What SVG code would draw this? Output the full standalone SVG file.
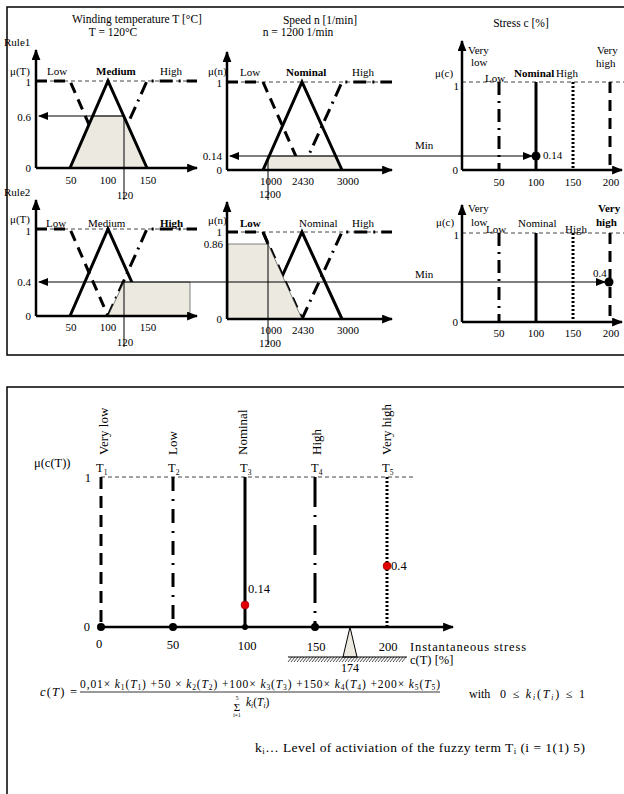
<svg xmlns="http://www.w3.org/2000/svg" width="624" height="794" viewBox="0 0 624 794">
<style>
text{font-family:"Liberation Serif","Times New Roman",serif;font-size:11px;fill:#000}
.b{font-weight:bold}
.it{font-style:italic}
.mid{text-anchor:middle}
.end{text-anchor:end}
.lg{font-size:12.5px}
.ax{stroke:#000;stroke-width:2.5;fill:none}
.sol{stroke:#000;stroke-width:3;fill:none}
.lo{stroke:#000;stroke-width:3;fill:none;stroke-dasharray:11 7}
.hi{stroke:#000;stroke-width:3;fill:none;stroke-dasharray:13 6 2 6}
.dt{stroke:#000;stroke-width:3;fill:none;stroke-dasharray:2 2}
.ref{stroke:#444;stroke-width:1;fill:none;stroke-dasharray:4 3}
.thin{stroke:#000;stroke-width:1;fill:none}
.shade{fill:#ECE9E0;stroke:#333;stroke-width:0.6}
.frame{fill:none;stroke:#000;stroke-width:1.5}
.sub{font-size:7.5px}
</style>
<defs>
<marker id="ah" viewBox="0 0 10 8" markerWidth="11" markerHeight="9" refX="9" refY="4" orient="auto" markerUnits="userSpaceOnUse"><path d="M0,0 L10,4 L0,8 z" fill="#000"/></marker>
<marker id="as" viewBox="0 0 10 8" markerWidth="10" markerHeight="8" refX="9" refY="4" orient="auto" markerUnits="userSpaceOnUse"><path d="M0,0 L10,4 L0,8 z" fill="#000"/></marker>
</defs>
<rect class="frame" x="7" y="7" width="640" height="348"/>
<rect class="frame" x="7" y="387" width="640" height="420"/>

<!-- headers -->
<text x="137" y="23" class="mid" style="font-size:11.5px">Winding temperature T [°C]</text>
<text x="113" y="36" class="mid" style="font-size:11.5px">T = 120°C</text>
<text x="320" y="24" class="mid" style="font-size:11.5px">Speed n [1/min]</text>
<text x="298" y="36" class="mid" style="font-size:11.5px">n = 1200 1/min</text>
<text x="521" y="27" class="mid" style="font-size:11.5px">Stress c [%]</text>
<text x="4" y="46">Rule1</text>
<text x="4" y="196">Rule2</text>

<!-- Rule1 temperature -->
<g id="r1-temp">
<line class="ref" x1="36" y1="81" x2="197" y2="81"/>
<polyline class="lo" points="36,81 70,81 108,168"/>
<polyline class="hi" points="108,168 147,81 197,81"/>
<polygon class="shade" points="70,168 93,116 124,116 147,168"/>
<polyline class="sol" points="70,168 108,81 147,168"/>
<line class="thin" x1="124" y1="116" x2="124" y2="200"/>
<line class="ax" x1="36" y1="168" x2="36" y2="50" marker-end="url(#ah)"/>
<line class="ax" x1="36" y1="168" x2="197" y2="168" marker-end="url(#ah)"/>
<line class="thin" x1="124" y1="116" x2="39" y2="116" marker-end="url(#as)"/>
<text x="10" y="75">μ(T)</text>
<text x="47" y="75">Low</text>
<text x="96" y="75" class="b">Medium</text>
<text x="160" y="75">High</text>
<text x="31" y="86" class="end">1</text>
<text x="31" y="121" class="end">0.6</text>
<text x="31" y="172" class="end">0</text>
<text x="71" y="184" class="mid">50</text>
<text x="108" y="184" class="mid">100</text>
<text x="148" y="184" class="mid">150</text>
<text x="125" y="199" class="mid">120</text>
</g>

<!-- Rule1 speed -->
<g id="r1-speed">
<line class="ref" x1="227" y1="82" x2="392" y2="82"/>
<polyline class="lo" points="227,82 263,82 302,170"/>
<polyline class="hi" points="302,170 342,82 392,82"/>
<polygon class="shade" points="263,170 269,156 336,156 342,170"/>
<polyline class="sol" points="263,170 302,82 342,170"/>
<line class="thin" x1="268" y1="156" x2="268" y2="200"/>
<line class="ax" x1="227" y1="170" x2="227" y2="52" marker-end="url(#ah)"/>
<line class="ax" x1="227" y1="170" x2="392" y2="170" marker-end="url(#ah)"/>
<text x="208" y="75">μ(n)</text>
<text x="240" y="76">Low</text>
<text x="286" y="76" class="b">Nominal</text>
<text x="352" y="76">High</text>
<text x="222" y="87" class="end">1</text>
<text x="222" y="160" class="end">0.14</text>
<text x="222" y="174" class="end">0</text>
<text x="271" y="185" class="mid">1000</text>
<text x="303" y="185" class="mid">2430</text>
<text x="348" y="185" class="mid">3000</text>
<text x="270" y="198" class="mid">1200</text>
</g>

<!-- Rule1 stress -->
<g id="r1-stress">
<line class="ref" x1="462" y1="82" x2="624" y2="82"/>
<line class="hi" x1="499" y1="82" x2="499" y2="170"/>
<line class="sol" x1="536" y1="82" x2="536" y2="170"/>
<line class="dt" x1="573" y1="82" x2="573" y2="170"/>
<line class="lo" x1="610" y1="82" x2="610" y2="170"/>
<line class="ax" x1="462" y1="170" x2="462" y2="41" marker-end="url(#ah)"/>
<line class="ax" x1="462" y1="170" x2="622" y2="170" marker-end="url(#ah)"/>
<circle cx="536" cy="156" r="4.5" fill="#000"/>
<text x="435" y="77">μ(c)</text>
<text x="468" y="54">Very</text>
<text x="471" y="66">low</text>
<text x="485" y="82">Low</text>
<text x="514" y="77" class="b">Nominal</text>
<text x="556" y="77">High</text>
<text x="597" y="54">Very</text>
<text x="596" y="67">high</text>
<text x="459" y="90" class="end">1</text>
<text x="458" y="174" class="end">0</text>
<text x="543" y="159">0.14</text>
<text x="499" y="186" class="mid">50</text>
<text x="536" y="186" class="mid">100</text>
<text x="573" y="186" class="mid">150</text>
<text x="611" y="186" class="mid">200</text>
<text x="415" y="149">Min</text>
</g>

<!-- Rule2 temperature -->
<g id="r2-temp">
<line class="ref" x1="36" y1="229" x2="197" y2="229"/>
<polyline class="lo" points="36,229 70,229 108,316"/>
<polyline class="hi" points="108,316 147,229 197,229"/>
<polyline class="sol" points="70,316 108,229 147,316"/>
<polygon class="shade" points="108,316 124,282 190,282 190,316"/>
<line class="thin" x1="124" y1="282" x2="124" y2="347"/>
<line class="ax" x1="36" y1="316" x2="36" y2="200" marker-end="url(#ah)"/>
<line class="ax" x1="36" y1="316" x2="197" y2="316" marker-end="url(#ah)"/>
<text x="10" y="223">μ(T)</text>
<text x="46" y="227">Low</text>
<text x="88" y="227">Medium</text>
<text x="160" y="227" class="b">High</text>
<text x="31" y="235" class="end">1</text>
<text x="31" y="286" class="end">0.4</text>
<text x="31" y="320" class="end">0</text>
<text x="71" y="331" class="mid">50</text>
<text x="108" y="331" class="mid">100</text>
<text x="148" y="331" class="mid">150</text>
<text x="125" y="346" class="mid">120</text>
</g>

<!-- Rule2 speed -->
<g id="r2-speed">
<line class="ref" x1="227" y1="232" x2="392" y2="232"/>
<polyline class="lo" points="227,232 263,232 302,319"/>
<polyline class="hi" points="302,319 342,232 392,232"/>
<polyline class="sol" points="263,319 302,232 342,319"/>
<polygon class="shade" points="228,319 228,244 268,244 302,319"/>
<line class="sol" x1="263" y1="232" x2="268" y2="244"/>
<line class="thin" x1="268" y1="244" x2="268" y2="345"/>
<line class="ax" x1="227" y1="319" x2="227" y2="202" marker-end="url(#ah)"/>
<line class="ax" x1="227" y1="319" x2="392" y2="319" marker-end="url(#ah)"/>
<text x="208" y="224">μ(n)</text>
<text x="240" y="227" class="b">Low</text>
<text x="299" y="227">Nominal</text>
<text x="352" y="227">High</text>
<text x="222" y="236" class="end">1</text>
<text x="223" y="248" class="end">0.86</text>
<text x="222" y="323" class="end">0</text>
<text x="271" y="334" class="mid">1000</text>
<text x="303" y="334" class="mid">2430</text>
<text x="348" y="334" class="mid">3000</text>
<text x="270" y="347" class="mid">1200</text>
</g>

<!-- Rule2 stress -->
<g id="r2-stress">
<line class="ref" x1="462" y1="233" x2="624" y2="233"/>
<line class="hi" x1="499" y1="233" x2="499" y2="322"/>
<line class="sol" x1="536" y1="233" x2="536" y2="322"/>
<line class="dt" x1="573" y1="233" x2="573" y2="322"/>
<line class="lo" x1="610" y1="233" x2="610" y2="322"/>
<line class="ax" x1="462" y1="322" x2="462" y2="205" marker-end="url(#ah)"/>
<line class="ax" x1="462" y1="322" x2="622" y2="322" marker-end="url(#ah)"/>
<circle cx="609" cy="282" r="4.5" fill="#000"/>
<text x="436" y="226">μ(c)</text>
<text x="468" y="212">Very</text>
<text x="471" y="226">low</text>
<text x="486" y="233">Low</text>
<text x="518" y="227">Nominal</text>
<text x="565" y="233">High</text>
<text x="598" y="212" class="b">Very</text>
<text x="596" y="226" class="b">high</text>
<text x="459" y="239" class="end">1</text>
<text x="458" y="326" class="end">0</text>
<text x="593" y="277">0.4</text>
<text x="499" y="337" class="mid">50</text>
<text x="536" y="337" class="mid">100</text>
<text x="573" y="337" class="mid">150</text>
<text x="611" y="337" class="mid">200</text>
<text x="415" y="278">Min</text>
</g>

<!-- connectors (Min lines) -->
<g id="connectors">
<line class="thin" x1="400" y1="156" x2="230" y2="156" marker-end="url(#as)"/>
<line class="thin" x1="400" y1="156" x2="532" y2="156" marker-end="url(#as)"/>
<line class="thin" x1="300" y1="282" x2="39" y2="282" marker-end="url(#as)"/>
<line class="thin" x1="300" y1="282" x2="605" y2="282" marker-end="url(#as)"/>
</g>

<!-- Bottom defuzzification chart -->
<g id="defuzz">
<line class="ref" x1="101" y1="477" x2="413" y2="477"/>
<line class="lo" x1="101" y1="477" x2="101" y2="627" style="stroke-dasharray:12 7"/>
<line class="hi" x1="173" y1="477" x2="173" y2="627" style="stroke-dasharray:14 8 2 8"/>
<line class="sol" x1="245" y1="477" x2="245" y2="627"/>
<line class="hi" x1="315" y1="477" x2="315" y2="627" style="stroke-dasharray:30 8 2 8"/>
<line class="dt" x1="387" y1="477" x2="387" y2="627"/>
<line class="ax" x1="101" y1="627" x2="453" y2="627" marker-end="url(#ah)"/>
<circle cx="101" cy="627" r="4" fill="#000"/>
<circle cx="173" cy="627" r="4" fill="#000"/>
<circle cx="245" cy="627" r="3" fill="#000"/>
<circle cx="315" cy="627" r="4" fill="#000"/>
<circle cx="245" cy="605" r="4" fill="#e00000" stroke="#800" stroke-width="0.5"/>
<circle cx="387" cy="566" r="4" fill="#e00000" stroke="#800" stroke-width="0.5"/>
<text x="248" y="593" class="lg">0.14</text>
<text x="391" y="570" class="lg">0.4</text>
<text x="34" y="467" class="lg">μ(c(T))</text>
<text x="91" y="482" class="end lg">1</text>
<text x="90" y="631" class="end lg">0</text>
<text x="96" y="472" class="lg">T<tspan dy="3" class="sub">1</tspan></text>
<text x="168" y="472" class="lg">T<tspan dy="3" class="sub">2</tspan></text>
<text x="240" y="472" class="lg">T<tspan dy="3" class="sub">3</tspan></text>
<text x="311" y="472" class="lg">T<tspan dy="3" class="sub">4</tspan></text>
<text x="382" y="472" class="lg">T<tspan dy="3" class="sub">5</tspan></text>
<text transform="translate(108,455) rotate(-90)" style="font-size:13px">Very low</text>
<text transform="translate(177,455) rotate(-90)" style="font-size:13px">Low</text>
<text transform="translate(247,455) rotate(-90)" style="font-size:13px">Nominal</text>
<text transform="translate(321,455) rotate(-90)" style="font-size:13px">High</text>
<text transform="translate(391,455) rotate(-90)" style="font-size:13px">Very high</text>
<text x="99" y="648" class="mid lg">0</text>
<text x="173" y="649" class="mid lg">50</text>
<text x="247" y="650" class="mid lg">100</text>
<text x="316" y="651" class="mid lg">150</text>
<text x="388" y="651" class="mid lg">200</text>
<text x="410" y="651" class="lg" textLength="116" lengthAdjust="spacing">Instantaneous stress</text>
<polygon points="350,627 343,657 357,657" fill="#ECE9E0" stroke="#000" stroke-width="1"/>
<line class="thin" x1="288" y1="657" x2="407" y2="657"/>
<path d="M288,662 l4,-5 M291,662 l4,-5 M294,662 l4,-5 M297,662 l4,-5 M300,662 l4,-5 M303,662 l4,-5 M306,662 l4,-5 M309,662 l4,-5 M312,662 l4,-5 M315,662 l4,-5 M318,662 l4,-5 M321,662 l4,-5 M324,662 l4,-5 M327,662 l4,-5 M330,662 l4,-5 M333,662 l4,-5 M336,662 l4,-5 M339,662 l4,-5 M342,662 l4,-5 M345,662 l4,-5 M348,662 l4,-5 M351,662 l4,-5 M354,662 l4,-5 M357,662 l4,-5 M360,662 l4,-5 M363,662 l4,-5 M366,662 l4,-5 M369,662 l4,-5 M372,662 l4,-5 M375,662 l4,-5 M378,662 l4,-5 M381,662 l4,-5 M384,662 l4,-5 M387,662 l4,-5 M390,662 l4,-5 M393,662 l4,-5 M396,662 l4,-5 M399,662 l4,-5 M402,662 l4,-5" stroke="#000" stroke-width="0.7" fill="none"/>
<text x="410" y="664" class="lg">c(T) [%]</text>
<text x="350" y="672" class="mid" style="font-size:12px">174</text>
</g>

<!-- formula -->
<g id="formula">
<text x="40" y="696" style="font-size:12.5px" textLength="37" lengthAdjust="spacing"><tspan class="it">c</tspan>(<tspan class="it">T</tspan>) =</text>
<text x="80" y="688" style="font-size:11.5px" textLength="360" lengthAdjust="spacing">0,01× <tspan class="it">k</tspan><tspan dy="1.5" class="sub">1</tspan><tspan dy="-1.5">(</tspan><tspan class="it">T</tspan><tspan dy="1.5" class="sub">1</tspan><tspan dy="-1.5">) +50 × </tspan><tspan class="it">k</tspan><tspan dy="1.5" class="sub">2</tspan><tspan dy="-1.5">(</tspan><tspan class="it">T</tspan><tspan dy="1.5" class="sub">2</tspan><tspan dy="-1.5">) +100× </tspan><tspan class="it">k</tspan><tspan dy="1.5" class="sub">3</tspan><tspan dy="-1.5">(</tspan><tspan class="it">T</tspan><tspan dy="1.5" class="sub">3</tspan><tspan dy="-1.5">) +150× </tspan><tspan class="it">k</tspan><tspan dy="1.5" class="sub">4</tspan><tspan dy="-1.5">(</tspan><tspan class="it">T</tspan><tspan dy="1.5" class="sub">4</tspan><tspan dy="-1.5">) +200× </tspan><tspan class="it">k</tspan><tspan dy="1.5" class="sub">5</tspan><tspan dy="-1.5">(</tspan><tspan class="it">T</tspan><tspan dy="1.5" class="sub">5</tspan><tspan dy="-1.5">)</tspan></text>
<line x1="80" y1="692" x2="440" y2="692" stroke="#000" stroke-width="0.8"/>
<text x="237" y="711" class="mid" style="font-size:11px">Σ</text>
<text x="237" y="700" class="mid" style="font-size:5.5px">5</text>
<text x="237" y="717" class="mid" style="font-size:5.5px">i=1</text>
<text x="246" y="706" style="font-size:11.5px"><tspan class="it">k</tspan><tspan dy="2" class="sub it">i</tspan><tspan dy="-2">(</tspan><tspan class="it">T</tspan><tspan dy="2" class="sub it">i</tspan><tspan dy="-2">)</tspan></text>
<text x="469" y="698" style="font-size:12px">with</text>
<text x="500" y="698" style="font-size:12px" textLength="85" lengthAdjust="spacing">0 ≤ <tspan class="it">k</tspan><tspan dy="2" class="sub it">i</tspan><tspan dy="-2">(</tspan><tspan class="it">T</tspan><tspan dy="2" class="sub it">i</tspan><tspan dy="-2">) ≤ 1</tspan></text>
<text x="255" y="752" style="font-size:13.5px" textLength="330" lengthAdjust="spacing">k<tspan dy="2" style="font-size:9px">i</tspan><tspan dy="-2">… Level of activiation of the fuzzy term T</tspan><tspan dy="2" style="font-size:9px">i</tspan><tspan dy="-2">  (i = 1(1) 5)</tspan></text>
</g>
</svg>
